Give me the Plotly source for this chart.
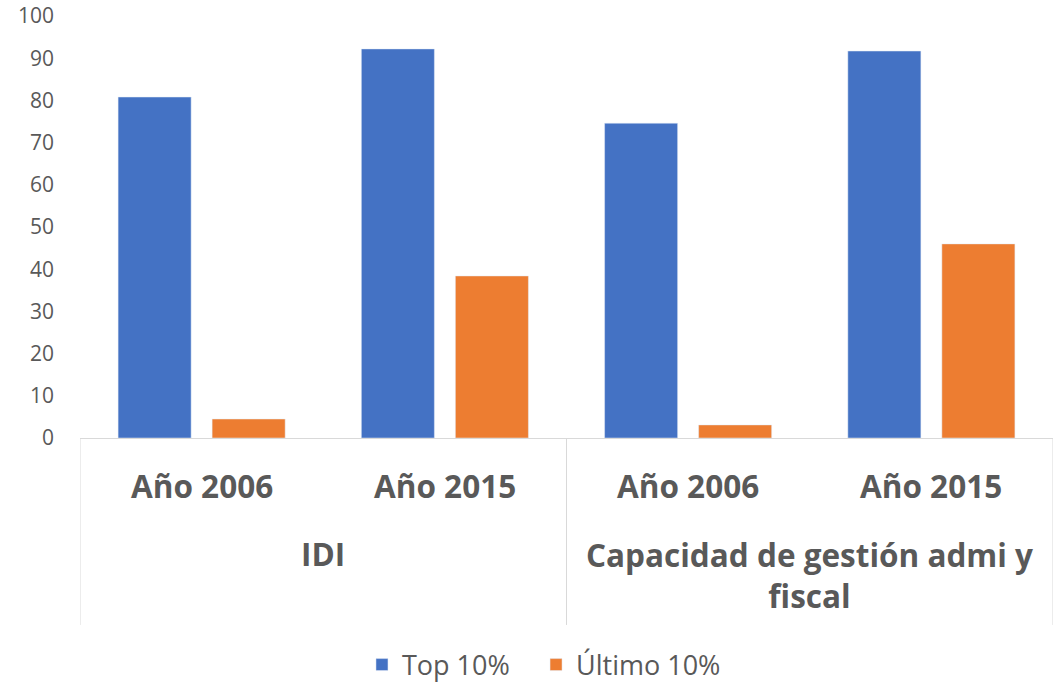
import plotly.graph_objects as go

years = ["Año 2006", "Año 2015", "Año 2006", "Año 2015"]
groups = ["IDI", "Capacidad de gestión admi y<br>fiscal"]
top_values = [80.8, 92.2, 74.6, 91.7]
last_values = [4.5, 38.4, 3.1, 46.0]
series_names = ["Top 10%", "Último 10%"]
y_ticks = [0, 10, 20, 30, 40, 50, 60, 70, 80, 90, 100]

x_pos = list(range(len(years)))
BLUE = "#4472C4"
ORANGE = "#ED7D31"
GRAY_TXT = "#595959"
LINE = "#D9D9D9"
CAT_SIZE = 31.5

fig = go.Figure()
fig.add_trace(go.Bar(x=x_pos, y=top_values, name=series_names[0], marker_color=BLUE, legend="legend"))
fig.add_trace(go.Bar(x=x_pos, y=last_values, name=series_names[1], marker_color=ORANGE, legend="legend2"))

cat_font = dict(family="Open Sans", size=CAT_SIZE, color=GRAY_TXT)
annotations = []
for i, lab in enumerate(years):
    annotations.append(dict(x=i, y=-0.1137, xref="x", yref="paper", text=f"<b>{lab}</b>",
                            showarrow=False, font=cat_font, xanchor="center", yanchor="middle"))
group_y = [-0.2737, -0.3246]
for g, txt in enumerate(groups):
    annotations.append(dict(x=2 * g + 0.5, y=group_y[g], xref="x", yref="paper",
                            text=f"<b>{txt}</b>", showarrow=False, font=cat_font,
                            xanchor="center", yanchor="middle", align="center"))

shapes = []
for xv in [-0.5, 1.5, 3.5]:
    shapes.append(dict(type="line", xref="x", yref="paper", x0=xv, x1=xv, y0=0, y1=-0.443,
                       line=dict(color=LINE, width=1)))

legend_font = dict(family="Open Sans", size=27, color=GRAY_TXT)
fig.update_layout(
    width=1061, height=684,
    margin=dict(l=80, r=8, t=16, b=246, autoexpand=False),
    paper_bgcolor="white", plot_bgcolor="white",
    barmode="group", bargap=0.227, bargroupgap=0.223,
    showlegend=True,
    legend=dict(orientation="h", x=0.2898, xanchor="left", y=-0.538, yanchor="middle",
                font=legend_font),
    legend2=dict(orientation="h", x=0.4687, xanchor="left", y=-0.538, yanchor="middle",
                 font=legend_font),
    annotations=annotations, shapes=shapes,
)
fig.update_xaxes(range=[-0.5, 3.5], showticklabels=False, showgrid=False, zeroline=False,
                 showline=True, linecolor=LINE, linewidth=1, ticks="", automargin=False)
fig.update_yaxes(range=[0, 100], tickvals=y_ticks, showgrid=False, zeroline=False, showline=False,
                 tickfont=dict(family="Open Sans", size=21, color=GRAY_TXT), ticklabelstandoff=25,
                 ticklabeloverflow="allow", automargin=False)

fig.write_html("out.html", config={"displayModeBar": False},
               post_script="document.body.style.margin='0';document.body.style.overflow='hidden';")
